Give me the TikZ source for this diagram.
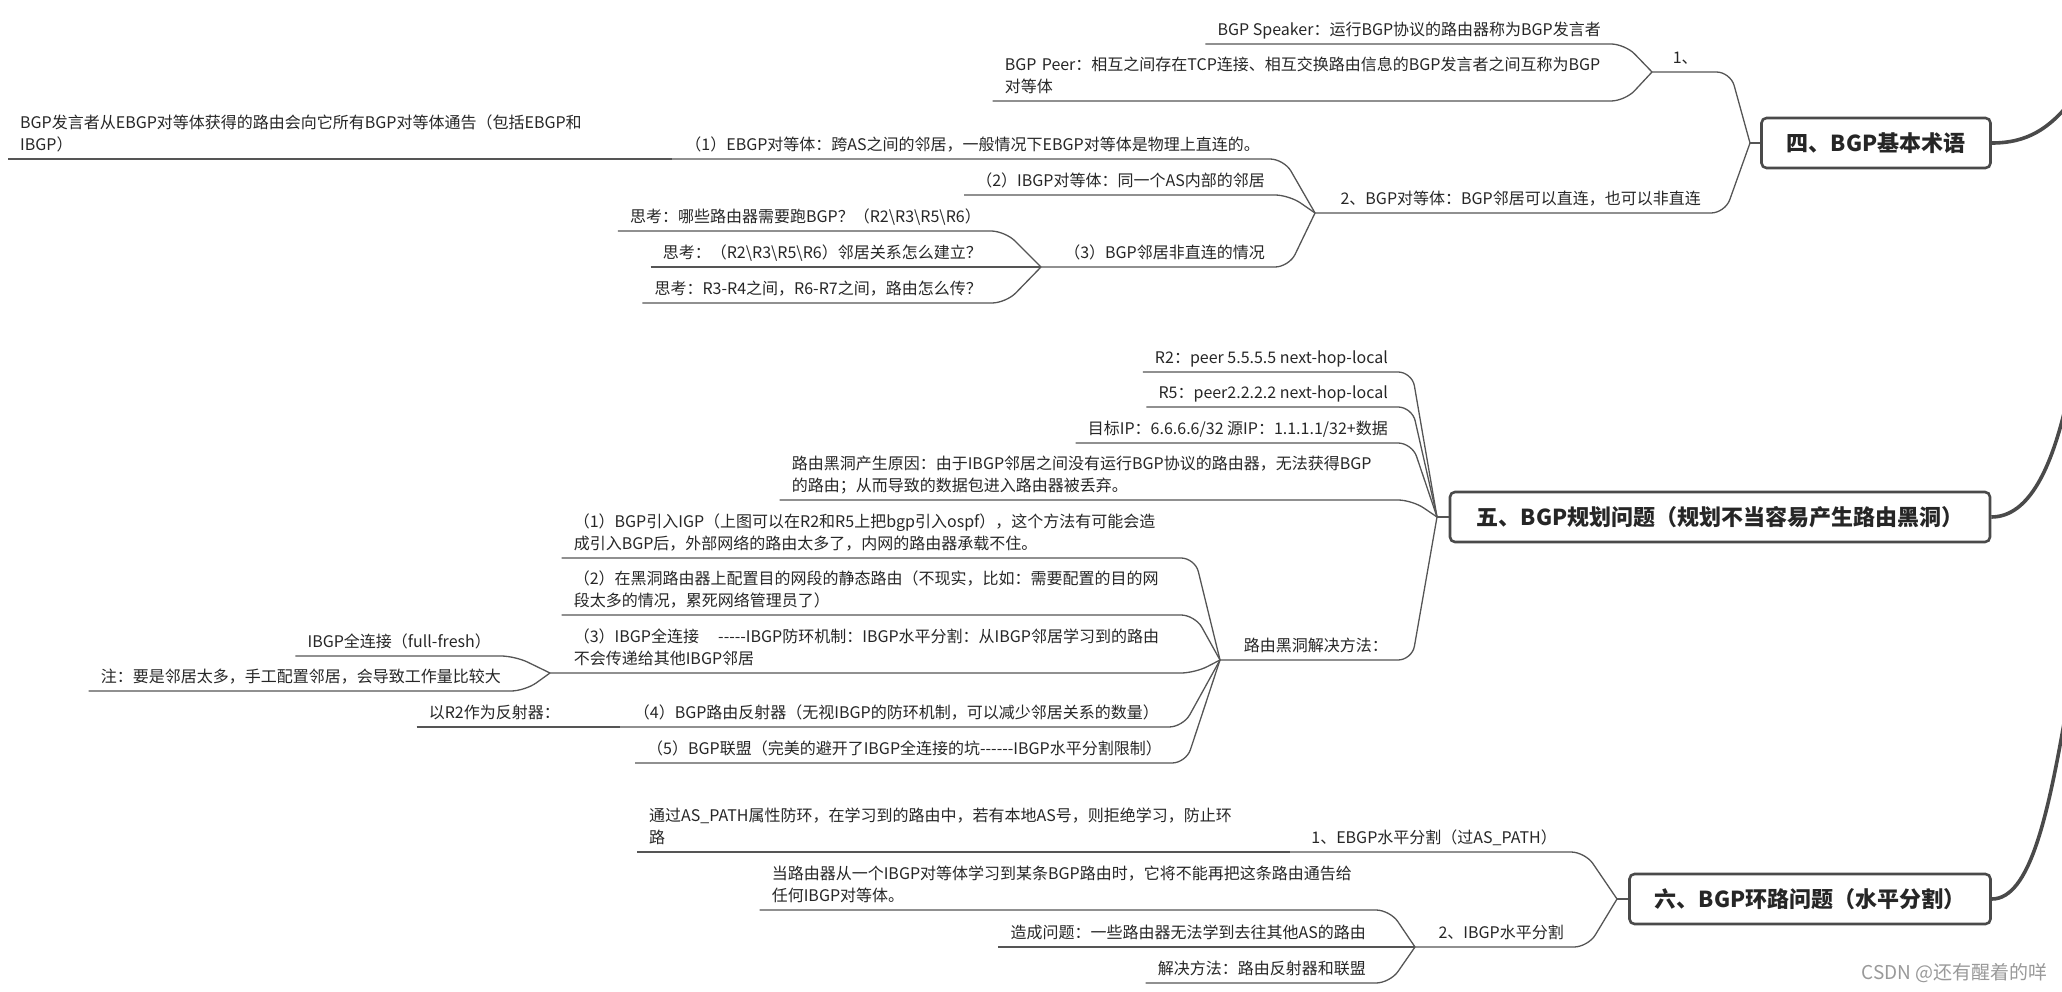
\documentclass[tikz,border=0pt]{standalone}
\usepackage{fontspec}
\setmainfont{Noto Sans CJK SC}
\definecolor{ln}{HTML}{555555}
\definecolor{bx}{HTML}{4A4A4A}
\definecolor{tx}{HTML}{262626}
\newcommand\txtfont{\fontsize{16}{22}\selectfont}
\newcommand\topicfont{\fontsize{22}{26}\bfseries\selectfont}
\tikzset{
  txt/.style={font=\txtfont, text=tx, inner xsep=12pt, inner ysep=8pt, text depth=0pt, anchor=south east, align=left},
  two/.style={text depth=22pt},
  conn/.style={draw=ln, line width=1.3pt, rounded corners=14pt},
  topic/.style={draw=bx, line width=2.6pt, rounded corners=5pt, fill=white, font=\topicfont, text=tx, minimum height=50pt, inner sep=0pt},
  rootc/.style={draw=bx, line width=3.6pt},
}
\begin{document}
\begin{tikzpicture}[x=1pt,y=-1pt]
\useasboundingbox (0,0) rectangle (2062,992);

% ---------- Section 4 ----------
\node[topic, minimum width=229pt] (b4) at (1876,143) {四、BGP基本术语};
\coordinate (j4) at (1750,143);
\draw[conn] (b4.west) -- (j4);

\node[txt, anchor=south west, minimum width=66pt, align=center] (n41) at (1652,72) {1、};
\node[txt] (n411) at (1613,44) {BGP Speaker：运行BGP协议的路由器称为BGP发言者};
\node[txt, two, text width=596pt] (n412) at (1613,101) {BGP Peer：相互之间存在TCP连接、相互交换路由信息的BGP发言者之间互称为BGP\\对等体};
\draw[conn] (n411.south west) -- ([xshift=12pt]n411.south east) -- (n41.south west);
\draw[conn] (n412.south west) -- ([xshift=12pt]n412.south east) -- (n41.south west);
\draw[conn] (n41.south west) -- ([xshift=12pt]n41.south east) -- (j4);

\node[txt] (n42) at (1713,213) {2、BGP对等体：BGP邻居可以直连，也可以非直连};
\coordinate (j42) at (1315,213);
\draw[conn] (j42) -- ([xshift=12pt]n42.south east) -- (j4);

\node[txt] (n421) at (1272,159) {（1）EBGP对等体：跨AS之间的邻居，一般情况下EBGP对等体是物理上直连的。};
\coordinate (j421) at (672,159);
\draw[conn] (j421) -- ([xshift=12pt]n421.south east) -- (j42);
\node[txt, two, anchor=south west, text width=574pt] (n4211) at (8,159) {BGP发言者从EBGP对等体获得的路由会向它所有BGP对等体通告（包括EBGP和\\IBGP）};
\draw[conn] (n4211.south west) -- (j421);

\node[txt] (n422) at (1277,195) {（2）IBGP对等体：同一个AS内部的邻居};
\draw[conn] (n422.south west) -- ([xshift=12pt]n422.south east) -- (j42);

\node[txt] (n423) at (1277,267) {（3）BGP邻居非直连的情况};
\coordinate (j423) at (1041,267);
\draw[conn] (j423) -- ([xshift=12pt]n423.south east) -- (j42);
\node[txt] (n4231) at (993,231) {思考：哪些路由器需要跑BGP？（R2\textbackslash R3\textbackslash R5\textbackslash R6）};
\node[txt] (n4232) at (994,267) {思考：（R2\textbackslash R3\textbackslash R5\textbackslash R6）邻居关系怎么建立？};
\node[txt] (n4233) at (994,303) {思考：R3-R4之间，R6-R7之间，路由怎么传？};
\foreach \n in {n4231,n4232,n4233}
  \draw[conn] (\n.south west) -- ([xshift=12pt]\n.south east) -- (j423);

% ---------- Section 5 ----------
\node[topic, minimum width=540pt] (b5) at (1720,517) {五、BGP规划问题（规划不当容易产生路由黑洞）};
\coordinate (j5) at (1437,517);
\draw[conn] (b5.west) -- (j5);

\node[txt] (n51) at (1400,372) {R2：peer 5.5.5.5 next-hop-local};
\node[txt] (n52) at (1400,407) {R5：peer2.2.2.2 next-hop-local};
\node[txt] (n53) at (1400,443) {目标IP：6.6.6.6/32 源IP：1.1.1.1/32+数据};
\node[txt, two, text width=596pt] (n54) at (1400,500) {路由黑洞产生原因：由于IBGP邻居之间没有运行BGP协议的路由器，无法获得BGP\\的路由；从而导致的数据包进入路由器被丢弃。};
\foreach \n in {n51,n52,n53,n54}
  \draw[conn] (\n.south west) -- ([xshift=12pt]\n.south east) -- (j5);

\node[txt] (n55) at (1400,660) {路由黑洞解决方法：};
\coordinate (j55) at (1220,660);
\draw[conn] (j55) -- ([xshift=12pt]n55.south east) -- (j5);

\node[txt, two, text width=597pt] (n551) at (1183,558) {（1）BGP引入IGP（上图可以在R2和R5上把bgp引入ospf），这个方法有可能会造\\成引入BGP后，外部网络的路由太多了，内网的路由器承载不住。};
\node[txt, two, text width=597pt] (n552) at (1183,615) {（2）在黑洞路由器上配置目的网段的静态路由（不现实，比如：需要配置的目的网\\段太多的情况，累死网络管理员了）};
\foreach \n in {n551,n552}
  \draw[conn] (\n.south west) -- ([xshift=12pt]\n.south east) -- (j55);

\node[txt, two, text width=597pt] (n553) at (1183,673) {（3）IBGP全连接\hspace{1.2em}-{}-{}-{}-{}-IBGP防环机制：IBGP水平分割：从IBGP邻居学习到的路由\\不会传递给其他IBGP邻居};
\coordinate (j553) at (550,673);
\draw[conn] (j553) -- ([xshift=12pt]n553.south east) -- (j55);
\node[txt] (n5531) at (503,656) {IBGP全连接（full-fresh）};
\node[txt] (n5532) at (513,691) {注：要是邻居太多，手工配置邻居，会导致工作量比较大};
\foreach \n in {n5531,n5532}
  \draw[conn] (\n.south west) -- ([xshift=12pt]\n.south east) -- (j553);

\node[txt] (n554) at (1171,727) {（4）BGP路由反射器（无视IBGP的防环机制，可以减少邻居关系的数量）};
\coordinate (j554) at (620,727);
\draw[conn] (j554) -- ([xshift=12pt]n554.south east) -- (j55);
\node[txt] (n5541) at (572,727) {以R2作为反射器：};
\draw[conn] (n5541.south west) -- (j554);

\node[txt] (n555) at (1174,763) {（5）BGP联盟（完美的避开了IBGP全连接的坑-{}-{}-{}-{}-{}-IBGP水平分割限制）};
\draw[conn] (n555.south west) -- ([xshift=12pt]n555.south east) -- (j55);

% ---------- Section 6 ----------
\node[topic, minimum width=361pt] (b6) at (1810,899) {六、BGP环路问题（水平分割）};
\coordinate (j6) at (1617,899);
\draw[conn] (b6.west) -- (j6);

\node[txt] (n61) at (1569,852) {1、EBGP水平分割（过AS\_PATH）};
\coordinate (j61) at (1290,852);
\draw[conn] (j61) -- ([xshift=16pt]n61.south east) -- (j6);
\node[txt, two, anchor=south west, text width=590pt] (n611) at (637,852) {通过AS\_PATH属性防环，在学习到的路由中，若有本地AS号，则拒绝学习，防止环\\路};
\draw[conn] (n611.south west) -- (j61);

\node[txt] (n62) at (1576,947) {2、IBGP水平分割};
\coordinate (j62) at (1415,947);
\draw[conn] (j62) -- ([xshift=12pt]n62.south east) -- (j6);
\node[txt, two, text width=594pt] (n621) at (1378,910) {当路由器从一个IBGP对等体学习到某条BGP路由时，它将不能再把这条路由通告给\\任何IBGP对等体。};
\node[txt] (n622) at (1378,947) {造成问题：一些路由器无法学到去往其他AS的路由};
\node[txt] (n623) at (1378,983) {解决方法：路由反射器和联盟};
\foreach \n in {n621,n622,n623}
  \draw[conn] (\n.south west) -- ([xshift=12pt]\n.south east) -- (j62);

% ---------- connectors to the (off-picture) root ----------
\begin{scope}
\clip (0,0) rectangle (2062,992);
\draw[rootc] (b4.east) .. controls (2028,143) and (2050,128) .. (2072,100);
\draw[rootc] (b5.east) .. controls (2030,517) and (2052,465) .. (2066,405);
\draw[rootc] (b6.east) .. controls (2030,899) and (2048,815) .. (2066,712);
\end{scope}

\node[font=\fontsize{19}{19}\selectfont, text=black!40, anchor=east, inner sep=0pt] (wm) at (2048,973) {CSDN @还有醒着的咩};
\end{tikzpicture}
\end{document}
